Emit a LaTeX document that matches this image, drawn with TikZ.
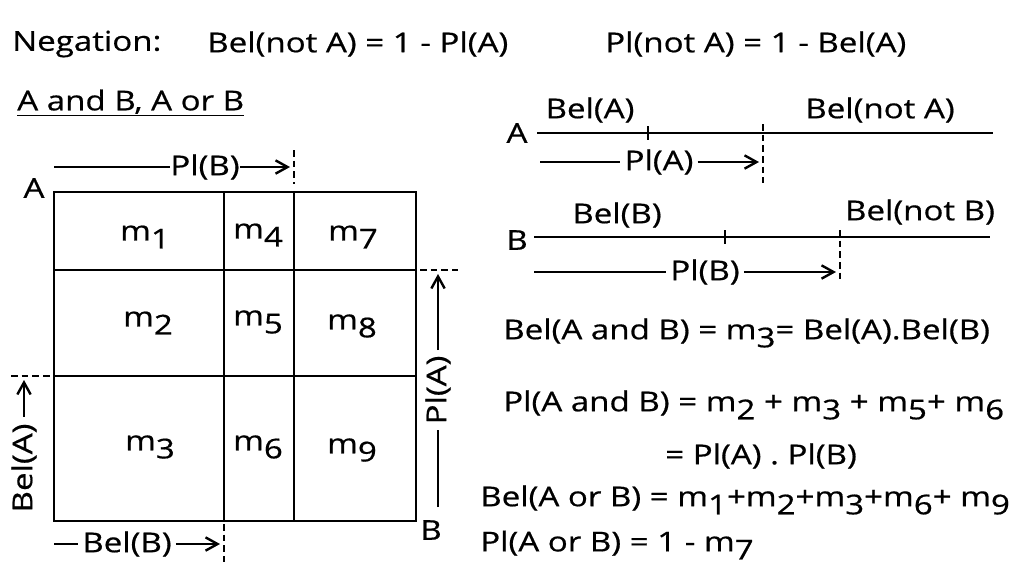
\documentclass[tikz,border=0pt]{standalone}
\usepackage{fontspec}
\setmainfont[FakeStretch=1.21,FakeBold=0.6]{Open Sans}
\usetikzlibrary{arrows.meta}
\newcommand\sbs[1]{\raisebox{-0.55ex}{#1}}
\begin{document}
\begin{tikzpicture}[x=0.75pt,y=-0.75pt,
  txt/.style={inner sep=0pt,font=\fontsize{20.5}{24}\selectfont},
  gridline/.style={line width=2.2pt},
  axisline/.style={line width=2pt},
  dashln/.style={line width=1.8pt,dash pattern=on 5pt off 3pt},
  arr/.style={line width=1.8pt,-{Straight Barb[length=9pt,width=10pt,line width=1.8pt]}},
  plain/.style={line width=1.8pt},
  cell/.style={txt}]
\useasboundingbox[fill=white] (0,0) rectangle (1024,576);

% header
\node[txt,anchor=west] (neg) at (12,44) {Negation:};
\node[txt,anchor=west] (eq1) at (207,44) {Bel(not A) = 1 - Pl(A)};
\node[txt,anchor=west] (eq2) at (605,44) {Pl(not A) = 1 - Bel(A)};
\node[txt,anchor=west] (sub) at (17,103) {\underline{A and B, A or B}};

% grid
\coordinate (g00) at (54,192);
\coordinate (g11) at (416,521);
\draw[gridline] (g00) rectangle (g11);
\coordinate (v1t) at (224,192); \coordinate (v1b) at (224,521);
\coordinate (v2t) at (294,192); \coordinate (v2b) at (294,521);
\coordinate (h1l) at (54,270); \coordinate (h1r) at (416,270);
\coordinate (h2l) at (54,376); \coordinate (h2r) at (416,376);
\draw[gridline] (v1t) -- (v1b) (v2t) -- (v2b) (h1l) -- (h1r) (h2l) -- (h2r);

\node[cell] (m1) at (145,237) {m\sbs{1}};
\node[cell] (m4) at (258,235) {m\sbs{4}};
\node[cell] (m7) at (353,237) {m\sbs{7}};
\node[cell] (m2) at (148,323) {m\sbs{2}};
\node[cell] (m5) at (258,322) {m\sbs{5}};
\node[cell] (m8) at (352,326) {m\sbs{8}};
\node[cell] (m3) at (150,447) {m\sbs{3}};
\node[cell] (m6) at (258,447) {m\sbs{6}};
\node[cell] (m9) at (352,450) {m\sbs{9}};

\node[txt] (lA) at (34,188) {A};
\node[txt] (lB) at (431,530) {B};

% Pl(B) top
\coordinate (pbS) at (54,167);
\node[txt] (pbt) at (205,167) {Pl(B)};
\coordinate (pbE) at (290,167);
\draw[plain] (pbS) -- (pbt.west);
\draw[arr] (pbt.east) -- (pbE);
\coordinate (pbd1) at (294,150); \coordinate (pbd2) at (294,184);
\draw[dashln] (pbd1) -- (pbd2);

% Pl(A) right
\coordinate (paS) at (438,507);
\node[txt,rotate=90] (pat) at (438,390) {Pl(A)};
\coordinate (paE) at (438,274);
\draw[plain] (paS) -- ([yshift=-4pt]pat.west);
\draw[arr] ([yshift=4pt]pat.east) -- (paE);
\coordinate (pad1) at (420,270); \coordinate (pad2) at (458,270);
\draw[dashln] (pad1) -- (pad2);

% Bel(A) left
\node[txt,rotate=90] (bat) at (24,468) {Bel(A)};
\coordinate (baE) at (24,380);
\draw[arr] ([yshift=5pt]bat.east) -- (baE);
\coordinate (bad1) at (11,376); \coordinate (bad2) at (52,376);
\draw[dashln] (bad1) -- (bad2);

% Bel(B) bottom
\coordinate (bbS) at (54,544);
\node[txt] (bbt) at (127,544) {Bel(B)};
\coordinate (bbE) at (220,544);
\draw[plain] (bbS) -- ([xshift=-3pt]bbt.west);
\draw[arr] ([xshift=3pt]bbt.east) -- (bbE);
\coordinate (bbd1) at (224,524); \coordinate (bbd2) at (224,562);
\draw[dashln] (bbd1) -- (bbd2);

% A line
\node[txt] (rA) at (517,133) {A};
\coordinate (aS) at (537,133); \coordinate (aE) at (993,133);
\draw[axisline] (aS) -- (aE);
\coordinate (at1) at (648,126); \coordinate (at2) at (648,140);
\draw[axisline] (at1) -- (at2);
\coordinate (ad1) at (763,124); \coordinate (ad2) at (763,183);
\draw[dashln] (ad1) -- (ad2);
\node[txt] (belA) at (590,110) {Bel(A)};
\node[txt] (belnA) at (880,110) {Bel(not A)};
\coordinate (plaS) at (540,162);
\node[txt] (plat) at (659,162) {Pl(A)};
\coordinate (plaE) at (759,162);
\draw[plain] (plaS) -- ([xshift=-3pt]plat.west);
\draw[arr] ([xshift=3pt]plat.east) -- (plaE);

% B line
\node[txt] (rB) at (517,240) {B};
\coordinate (bS) at (534,237); \coordinate (bE) at (990,237);
\draw[axisline] (bS) -- (bE);
\coordinate (bt1) at (725,230); \coordinate (bt2) at (725,244);
\draw[axisline] (bt1) -- (bt2);
\coordinate (bd1) at (840,230); \coordinate (bd2) at (840,281);
\draw[dashln] (bd1) -- (bd2);
\node[txt] (belB) at (617,215) {Bel(B)};
\node[txt] (belnB) at (920,212) {Bel(not B)};
\coordinate (plbS) at (534,272);
\node[txt] (plbt) at (705,272) {Pl(B)};
\coordinate (plbE) at (836,272);
\draw[plain] (plbS) -- ([xshift=-3pt]plbt.west);
\draw[arr] ([xshift=3pt]plbt.east) -- (plbE);

% equations
\node[txt,anchor=west] (e1) at (503,333) {Bel(A and B) = m\sbs{3}= Bel(A).Bel(B)};
\node[txt,anchor=west] (e2) at (503,405) {Pl(A and B) = m\sbs{2} + m\sbs{3} + m\sbs{5}+ m\sbs{6}};
\node[txt,anchor=west] (e3) at (665,456) {= Pl(A) . Pl(B)};
\node[txt,anchor=west] (e4) at (480,500) {Bel(A or B) = m\sbs{1}+m\sbs{2}+m\sbs{3}+m\sbs{6}+ m\sbs{9}};
\node[txt,anchor=west] (e5) at (480,545) {Pl(A or B) = 1 - m\sbs{7}};
\end{tikzpicture}
\end{document}
